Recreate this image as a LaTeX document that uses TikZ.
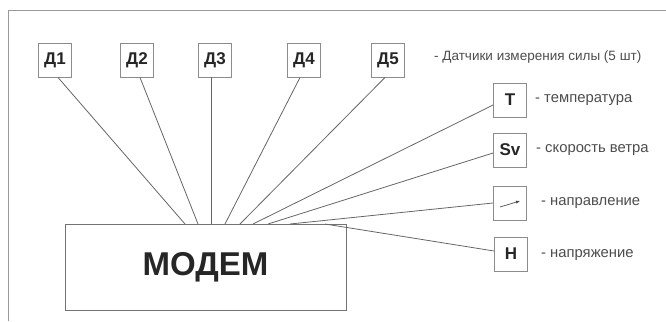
\documentclass[tikz,border=0pt]{standalone}
\usepackage{fontspec}
\setmainfont{Liberation Sans}
\usetikzlibrary{arrows.meta}
\begin{document}
\begin{tikzpicture}[x=1pt,y=1pt,
  sensor/.style={draw=black!45, line width=0.9pt, minimum width=33pt, minimum height=34pt,
    inner sep=0pt, font=\fontsize{17}{17}\selectfont\bfseries, text=black!85},
  wire/.style={draw=black!60, line width=0.8pt},
  legend/.style={anchor=west, inner sep=0pt, font=\fontsize{14.8}{16}\selectfont, text=black!70},
  frameline/.style={draw=black!40, line width=0.8pt}]
\useasboundingbox (0,0) rectangle (666,-321);
% page frame
\coordinate (f1) at (8,-321);
\coordinate (f2) at (8,-10);
\coordinate (f3) at (666,-10);
\draw[frameline] (f1) -- (f2) -- (f3);
% modem
\node[draw=black!55, line width=0.9pt, minimum width=281pt, minimum height=86pt, inner sep=0pt,
  font=\fontsize{33}{33}\selectfont\bfseries, text=black!85] (modem) at (205.5,-267) {МОДЕМ};
% force sensors
\node[sensor] (d1) at (55,-60) {Д1};
\node[sensor] (d2) at (137,-60) {Д2};
\node[sensor] (d3) at (215,-60) {Д3};
\node[sensor] (d4) at (304,-60) {Д4};
\node[sensor] (d5) at (388,-60) {Д5};
% weather sensors
\node[sensor] (t) at (510,-100) {T};
\node[sensor] (sv) at (510,-150) {Sv};
\node[sensor] (dir) at (510,-203) {};
\node[sensor] (h) at (511,-254) {H};
% wind direction glyph
\coordinate (g1) at (500,-207);
\coordinate (g2) at (520,-201);
\draw[black!70, line width=0.7pt, -{Latex[length=4pt,width=3.5pt]}] (g1) -- (g2);
% connection points on the modem
\coordinate (m1) at (185,-224);
\coordinate (m2) at (198,-224);
\coordinate (m3) at (211,-224);
\coordinate (m4) at (225,-224);
\coordinate (m5) at (240,-224);
\coordinate (m6) at (253,-224);
\coordinate (m7) at (268,-224);
\coordinate (m8) at (290,-224);
\coordinate (m9) at (325,-224);
% wiring
\draw[wire] ([xshift=3pt]d1.south) -- (m1);
\draw[wire] ([xshift=3pt]d2.south) -- (m2);
\draw[wire] ([xshift=-4pt]d3.south) -- (m3);
\draw[wire] ([xshift=-4pt]d4.south) -- (m4);
\draw[wire] ([xshift=-3pt]d5.south) -- (m5);
\draw[wire] ([yshift=-5pt]t.west) -- (m6);
\draw[wire] ([yshift=-3pt]sv.west) -- (m7);
\draw[wire] (dir.west) -- (m8);
\draw[wire] ([yshift=3pt]h.west) -- (m9);
% legend
\node[legend, font=\fontsize{13.5}{15}\selectfont] (l1) at (434,-57) {- Датчики измерения силы (5 шт)};
\node[legend] (l2) at (535,-100) {- температура};
\node[legend] (l3) at (536,-150) {- скорость ветра};
\node[legend] (l4) at (541,-203) {- направление};
\node[legend] (l5) at (541,-255) {- напряжение};
\end{tikzpicture}
\end{document}
